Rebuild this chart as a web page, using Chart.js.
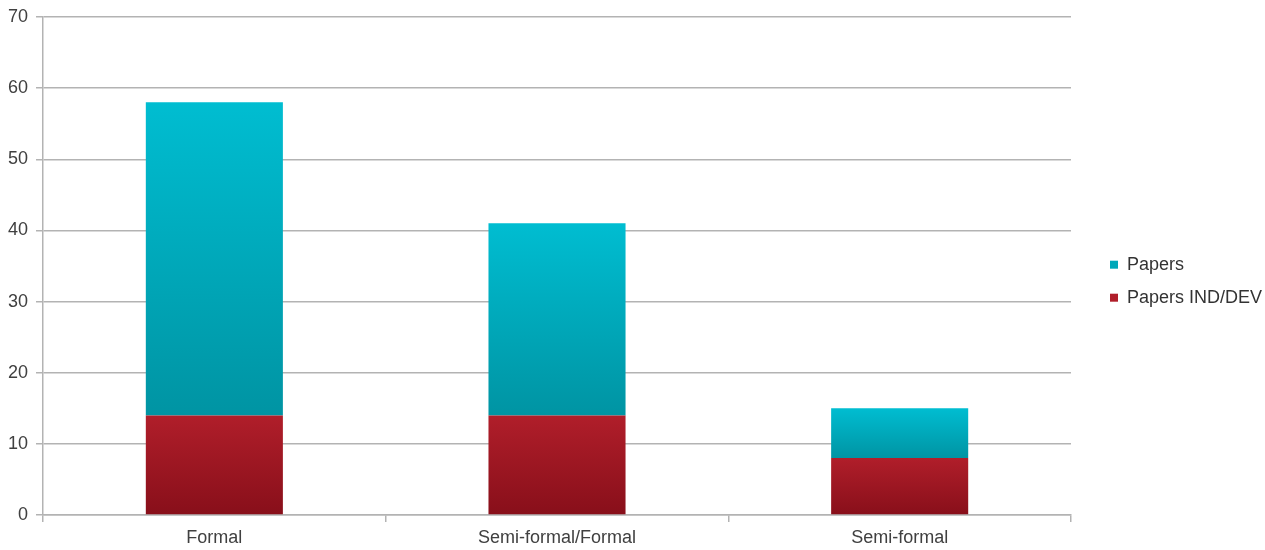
<!DOCTYPE html>
<html>
<head>
<meta charset="utf-8">
<script src="https://cdn.jsdelivr.net/npm/chart.js@4/dist/chart.umd.min.js"></script>
<style>
  html, body { margin: 0; padding: 0; background: #fff; }
  #wrap { width: 1265px; height: 550px; }
</style>
</head>
<body>
<div id="wrap"><canvas id="myChart"></canvas></div>
<script>
const categories = ["Formal", "Semi-formal/Formal", "Semi-formal"];
const papersIndDev = [14, 14, 8];
const papers = [44, 27, 7];
const yTicks = [0, 10, 20, 30, 40, 50, 60, 70];

const font = { family: "Liberation Sans, Arial, sans-serif", size: 18 };

// vertical gradient over one stacked segment, light on top, dark at bottom
function segmentFill(light, dark, solid, from, to) {
  return (context) => {
    if (context.type !== "data") return solid;
    const chart = context.chart;
    const y = chart.scales.y;
    if (!chart.chartArea || !y) return solid;
    const i = context.dataIndex;
    const top = y.getPixelForValue(to(i));
    const bottom = y.getPixelForValue(from(i));
    const g = chart.ctx.createLinearGradient(0, top, 0, bottom);
    g.addColorStop(0, light);
    g.addColorStop(1, dark);
    return g;
  };
}

let ctx = document.getElementById("myChart").getContext("2d");

let myChart = new Chart(ctx, {
  type: "bar",
  data: {
    labels: categories,
    datasets: [
      {
        label: "Papers IND/DEV",
        data: papersIndDev,
        backgroundColor: segmentFill("#b01e2a", "#880f1a", "#a81b27",
          () => 0, (i) => papersIndDev[i]),
        borderWidth: 0,
        categoryPercentage: 0.4,
        barPercentage: 1,
      },
      {
        label: "Papers",
        data: papers,
        backgroundColor: segmentFill("#00bdd1", "#0094a3", "#18b4c7",
          (i) => papersIndDev[i], (i) => papersIndDev[i] + papers[i]),
        borderWidth: 0,
        categoryPercentage: 0.4,
        barPercentage: 1,
      },
    ],
  },
  options: {
    responsive: true,
    maintainAspectRatio: false,
    animation: false,
    // category labels sit close to the bottom edge
    layout: { padding: { top: 0, left: 0, right: 0, bottom: -4 } },
    plugins: {
      tooltip: { enabled: false },
      legend: {
        position: "right",
        reverse: true,
        maxWidth: 170,
        // empty title only nudges the items down a little
        title: { display: true, text: "", padding: 0, font: { size: 7 } },
        labels: {
          boxWidth: 8,
          boxHeight: 8,
          padding: 15,
          color: "#333",
          font: font,
        },
      },
    },
    scales: {
      x: {
        stacked: true,
        grid: {
          offset: true,
          drawOnChartArea: false,
          drawTicks: true,
          tickLength: 7,
          color: "#b3b3b3",
          lineWidth: 1.5,
        },
        border: { color: "#b3b3b3", width: 1.5 },
        ticks: {
          color: "#404040",
          padding: 4,
          font: { ...font, lineHeight: 1.333 },
        },
      },
      y: {
        stacked: true,
        min: 0,
        max: 70,
        afterBuildTicks: (axis) => {
          axis.ticks = yTicks.map((v) => ({ value: v }));
        },
        grid: {
          color: "#b3b3b3",
          lineWidth: 1.5,
          tickLength: 7,
        },
        border: { color: "#b3b3b3", width: 1.5 },
        ticks: {
          color: "#404040",
          padding: 8,
          font: { ...font, lineHeight: 1 },
        },
      },
      // empty strip between plot and legend
      gap: {
        position: "right",
        grid: { display: false },
        border: { display: false },
        ticks: { display: false },
        afterFit: (axis) => { axis.width = 24; },
      },
    },
  },
});
</script>
</body>
</html>
